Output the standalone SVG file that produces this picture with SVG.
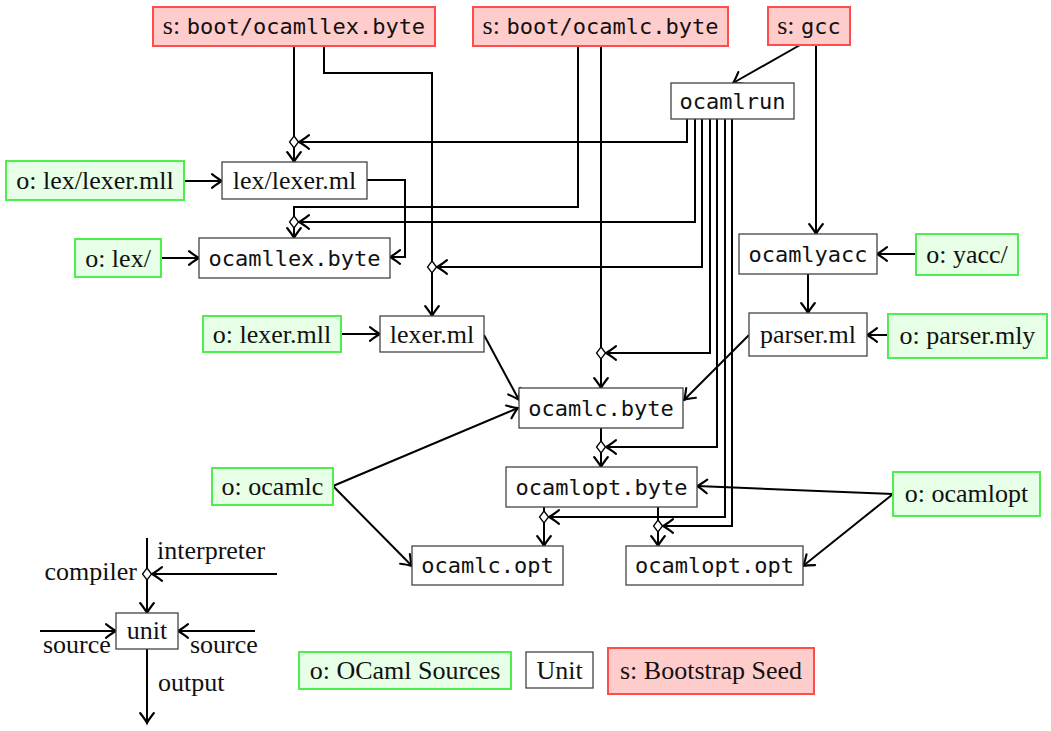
<svg xmlns="http://www.w3.org/2000/svg" width="1051" height="731" viewBox="0 0 1051 731">
  <style>
    .unit { fill: #ffffff; stroke: #444444; stroke-width: 1.3; }
    .src { fill: #e6ffe6; stroke: #4dee4d; stroke-width: 2; }
    .seed { fill: #ffcccc; stroke: #ff4d4d; stroke-width: 2; }
    .serif { font-family: "Liberation Serif", "Times New Roman", serif; font-size: 26px; fill: #111111; }
    .mono { font-family: "DejaVu Sans Mono", "Liberation Mono", monospace; font-size: 22px; fill: #111111; }
    .mid { text-anchor: middle; }
    .edge { fill: none; stroke: #000000; stroke-width: 2; marker-end: url(#arrow); }
    .wire { fill: none; stroke: #000000; stroke-width: 2; }
    .junction { fill: #ffffff; stroke: #000000; stroke-width: 1.3; }
  </style>
  <defs>
    <marker id="arrow" markerUnits="userSpaceOnUse" markerWidth="20" markerHeight="20" viewBox="-10 -8 12 16" refX="0" refY="0" orient="auto">
      <path d="M-8,-5.5 Q-2.5,-1.2 0,0 Q-2.5,1.2 -8,5.5" fill="none" stroke="#000000" stroke-width="1.7" stroke-linecap="round"/>
    </marker>
    <path id="dia" class="junction" d="M0,-6 L4.5,0 L0,6 L-4.5,0 Z"/>
  </defs>

  <rect width="1051" height="731" fill="#ffffff"/>

  <!-- connectors -->
  <g id="connectors">
    <!-- compiler inputs -->
    <path class="edge" d="M294,46 V162"/>
    <path class="edge" d="M324,46 V73 H432 V316"/>
    <path class="edge" d="M184,181 H222"/>
    <path class="edge" d="M367,180 H405 V257 H390"/>
    <path class="edge" d="M578,46 V207 H294 V238"/>
    <path class="edge" d="M601,46 V388"/>
    <path class="edge" d="M161,258 H199"/>
    <path class="edge" d="M341,334 H380"/>
    <path class="edge" d="M484,335 L519,400"/>
    <path class="edge" d="M333,486 L518,408"/>
    <path class="edge" d="M333,486 L412,566"/>
    <path class="edge" d="M808,274 V313"/>
    <path class="edge" d="M816,45 V234"/>
    <path class="edge" d="M800,45 L733,83"/>
    <path class="edge" d="M916,254 H877"/>
    <path class="edge" d="M888,335 H867"/>
    <path class="edge" d="M749,335 L684,400"/>
    <path class="edge" d="M601,428 V467"/>
    <path class="edge" d="M893,494 L697,486"/>
    <path class="edge" d="M893,494 L803,566"/>
    <path class="edge" d="M544,507 V546"/>
    <path class="edge" d="M658,507 V546"/>

    <!-- interpreter wires from ocamlrun -->
    <path class="edge" d="M687,119 V142 H299"/>
    <path class="edge" d="M695,119 V222 H299"/>
    <path class="edge" d="M702,119 V267 H437"/>
    <path class="edge" d="M710,119 V353 H606"/>
    <path class="edge" d="M717,119 V447 H606"/>
    <path class="edge" d="M725,119 V517 H549"/>
    <path class="edge" d="M732,119 V526 H663"/>

    <!-- junctions where interpreter meets compiler -->
    <use href="#dia" x="294" y="142"/>
    <use href="#dia" x="294" y="222"/>
    <use href="#dia" x="432" y="267"/>
    <use href="#dia" x="601" y="353"/>
    <use href="#dia" x="601" y="447"/>
    <use href="#dia" x="544" y="517"/>
    <use href="#dia" x="658" y="526"/>
  </g>

  <!-- bootstrap seeds -->
  <g id="seed-ocamllex">
    <rect class="seed" x="153" y="7" width="282" height="39"/>
    <text class="mid" x="294" y="34"><tspan class="serif">s: </tspan><tspan class="mono">boot/ocamllex.byte</tspan></text>
  </g>
  <g id="seed-ocamlc">
    <rect class="seed" x="473" y="7" width="255" height="39"/>
    <text class="mid" x="600.5" y="34"><tspan class="serif">s: </tspan><tspan class="mono">boot/ocamlc.byte</tspan></text>
  </g>
  <g id="seed-gcc">
    <rect class="seed" x="768" y="7" width="82" height="38"/>
    <text class="mid" x="809" y="34"><tspan class="serif">s: </tspan><tspan class="mono">gcc</tspan></text>
  </g>

  <!-- build units -->
  <g id="ocamlrun">
    <rect class="unit" x="671" y="83" width="123" height="36"/>
    <text class="mono mid" x="732.5" y="108.5">ocamlrun</text>
  </g>
  <g id="lex-lexer-ml">
    <rect class="unit" x="222" y="162" width="145" height="37"/>
    <text class="serif mid" x="294.5" y="189">lex/lexer.ml</text>
  </g>
  <g id="ocamllex-byte">
    <rect class="unit" x="199" y="238" width="191" height="40"/>
    <text class="mono mid" x="294.5" y="265.5">ocamllex.byte</text>
  </g>
  <g id="ocamlyacc">
    <rect class="unit" x="739" y="234" width="138" height="40"/>
    <text class="mono mid" x="808" y="261.5">ocamlyacc</text>
  </g>
  <g id="lexer-ml">
    <rect class="unit" x="380" y="316" width="104" height="36"/>
    <text class="serif mid" x="432" y="342.5">lexer.ml</text>
  </g>
  <g id="parser-ml">
    <rect class="unit" x="749" y="313" width="118" height="43"/>
    <text class="serif mid" x="808" y="343">parser.ml</text>
  </g>
  <g id="ocamlc-byte">
    <rect class="unit" x="519" y="388" width="164" height="40"/>
    <text class="mono mid" x="601" y="415.5">ocamlc.byte</text>
  </g>
  <g id="ocamlopt-byte">
    <rect class="unit" x="506" y="467" width="191" height="40"/>
    <text class="mono mid" x="601.5" y="494.5">ocamlopt.byte</text>
  </g>
  <g id="ocamlc-opt">
    <rect class="unit" x="412" y="546" width="151" height="39"/>
    <text class="mono mid" x="487.5" y="573">ocamlc.opt</text>
  </g>
  <g id="ocamlopt-opt">
    <rect class="unit" x="626" y="546" width="177" height="39"/>
    <text class="mono mid" x="714.5" y="573">ocamlopt.opt</text>
  </g>

  <!-- OCaml sources -->
  <g id="src-lex-lexer-mll">
    <rect class="src" x="6" y="161" width="178" height="39"/>
    <text class="serif mid" x="95" y="189">o: lex/lexer.mll</text>
  </g>
  <g id="src-lex">
    <rect class="src" x="75" y="239" width="86" height="38"/>
    <text class="serif mid" x="118" y="266.5">o: lex/</text>
  </g>
  <g id="src-yacc">
    <rect class="src" x="916" y="234" width="102" height="41"/>
    <text class="serif mid" x="967" y="263">o: yacc/</text>
  </g>
  <g id="src-lexer-mll">
    <rect class="src" x="203" y="316" width="138" height="36"/>
    <text class="serif mid" x="272" y="342.5">o: lexer.mll</text>
  </g>
  <g id="src-parser-mly">
    <rect class="src" x="888" y="314" width="159" height="44"/>
    <text class="serif mid" x="967.5" y="344">o: parser.mly</text>
  </g>
  <g id="src-ocamlc">
    <rect class="src" x="212" y="468" width="121" height="37"/>
    <text class="serif mid" x="272.5" y="495">o: ocamlc</text>
  </g>
  <g id="src-ocamlopt">
    <rect class="src" x="893" y="472" width="147" height="44"/>
    <text class="serif mid" x="966.5" y="502">o: ocamlopt</text>
  </g>

  <!-- legend: how a unit is wired -->
  <g id="legend-unit">
    <path class="edge" d="M147,538 V613"/>
    <path class="edge" d="M277,574 H152"/>
    <path class="edge" d="M40,631 H116"/>
    <path class="edge" d="M255,631 H178"/>
    <path class="edge" d="M147,649 V723"/>
    <use href="#dia" x="147" y="574"/>
    <rect class="unit" x="116" y="613" width="62" height="36"/>
    <text class="serif mid" x="147" y="639">unit</text>
    <text class="serif" x="157" y="559">interpreter</text>
    <text class="serif" x="137" y="580" text-anchor="end">compiler</text>
    <text class="serif" x="43" y="653">source</text>
    <text class="serif" x="190" y="653">source</text>
    <text class="serif" x="158" y="691">output</text>
  </g>

  <!-- legend: node kinds -->
  <g id="legend-sources">
    <rect class="src" x="299" y="652" width="212" height="37"/>
    <text class="serif mid" x="405" y="679">o: OCaml Sources</text>
  </g>
  <g id="legend-units">
    <rect class="unit" x="526" y="652" width="67" height="36"/>
    <text class="serif mid" x="559.5" y="679">Unit</text>
  </g>
  <g id="legend-seed">
    <rect class="seed" x="608" y="648" width="206" height="46"/>
    <text class="serif mid" x="711" y="679">s: Bootstrap Seed</text>
  </g>
</svg>
